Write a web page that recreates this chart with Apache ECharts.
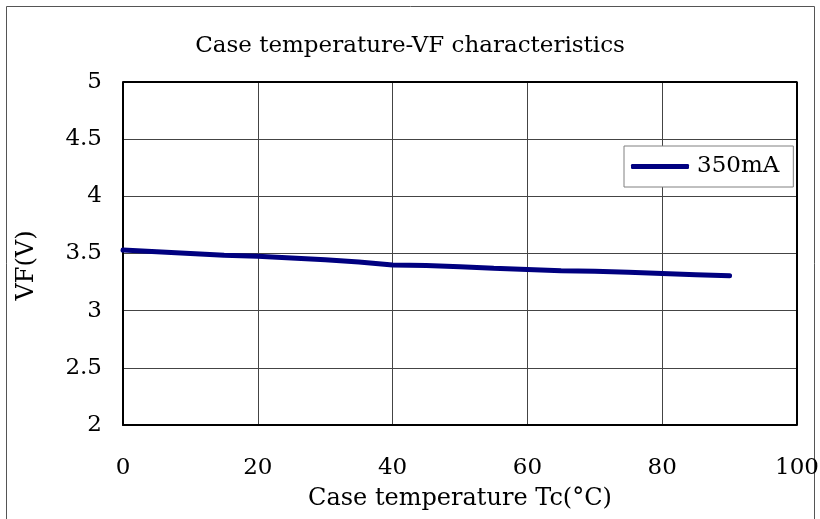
<!DOCTYPE html>
<html>
<head>
<meta charset="utf-8">
<script src="https://cdn.jsdelivr.net/npm/echarts@6/dist/echarts.min.js"></script>
<style>
  html, body { margin: 0; padding: 0; background: #fff; }
  #chart { width: 820px; height: 519px; }
</style>
</head>
<body>
<div id="chart"></div>
<script>
// Case temperature (°C) and forward voltage (V) at 350mA
const tempC = [0, 5, 10, 15, 20, 25, 30, 35, 40, 45, 50, 55, 60, 65, 70, 75, 80, 85, 90];
const vf350 = [3.53, 3.515, 3.50, 3.485, 3.475, 3.46, 3.445, 3.425, 3.40, 3.395, 3.385, 3.37, 3.36, 3.35, 3.345, 3.335, 3.325, 3.315, 3.305];
const xTicks = [0, 20, 40, 60, 80, 100];
const yTicks = [2, 2.5, 3, 3.5, 4, 4.5, 5];

const serif = '"DejaVu Serif", "Liberation Serif", serif';
const chart = echarts.init(document.getElementById('chart'), null, { renderer: 'canvas' });

chart.setOption({
  backgroundColor: '#fff',
  animation: false,
  graphic: [{
    type: 'rect',
    shape: { x: 6.5, y: 6.5, width: 808, height: 530 },
    style: { fill: 'none', stroke: '#555', lineWidth: 1 },
    silent: true
  }],
  title: {
    text: 'Case temperature-VF characteristics',
    left: 'center',
    top: 30,
    textStyle: { fontFamily: serif, fontWeight: 'normal', fontSize: 23, color: '#000' }
  },
  legend: {
    data: ['350mA'],
    left: 624,
    top: 146,
    orient: 'vertical',
    icon: 'roundRect',
    itemWidth: 58,
    itemHeight: 5,
    itemGap: 0,
    padding: [9, 14, 9, 7],
    borderColor: '#808080',
    borderWidth: 1,
    backgroundColor: '#fff',
    textStyle: { fontFamily: serif, fontSize: 23, color: '#000', padding: [0, 0, 0, 3] }
  },
  grid: { left: 123, right: 23, top: 82, bottom: 94, containLabel: false, outerBoundsMode: 'none' },
  xAxis: {
    type: 'value',
    min: xTicks[0],
    max: xTicks[xTicks.length - 1],
    interval: 20,
    name: 'Case temperature Tc(°C)',
    nameLocation: 'middle',
    nameGap: 62,
    nameTextStyle: { fontFamily: serif, fontSize: 24, color: '#000' },
    axisLine: { lineStyle: { color: '#000', width: 2 } },
    axisTick: { show: false },
    axisLabel: { fontFamily: serif, fontSize: 23, color: '#000', margin: 32 },
    splitLine: { show: true, lineStyle: { color: '#444', width: 1 } }
  },
  yAxis: {
    type: 'value',
    min: yTicks[0],
    max: yTicks[yTicks.length - 1],
    interval: 0.5,
    name: 'VF(V)',
    nameLocation: 'middle',
    nameGap: 84,
    nameTextStyle: { fontFamily: serif, fontSize: 24, color: '#000', padding: [0, 24, 0, 0] },
    axisLine: { show: true, lineStyle: { color: '#000', width: 2 } },
    axisTick: { show: false },
    axisLabel: { fontFamily: serif, fontSize: 23, color: '#000', margin: 21 },
    splitLine: { show: true, lineStyle: { color: '#444', width: 1 } }
  },
  series: [
    {
      // right/top frame of the plot area
      type: 'line',
      silent: true,
      symbol: 'none',
      data: [[0, 5], [100, 5], [100, 2]],
      lineStyle: { color: '#000', width: 2 },
      z: 1
    },
    {
      name: '350mA',
      type: 'line',
      symbol: 'none',
      data: tempC.map((t, i) => [t, vf350[i]]),
      lineStyle: { color: '#000080', width: 5, cap: 'round' },
      itemStyle: { color: '#000080' },
      z: 3
    }
  ]
});
</script>
</body>
</html>
